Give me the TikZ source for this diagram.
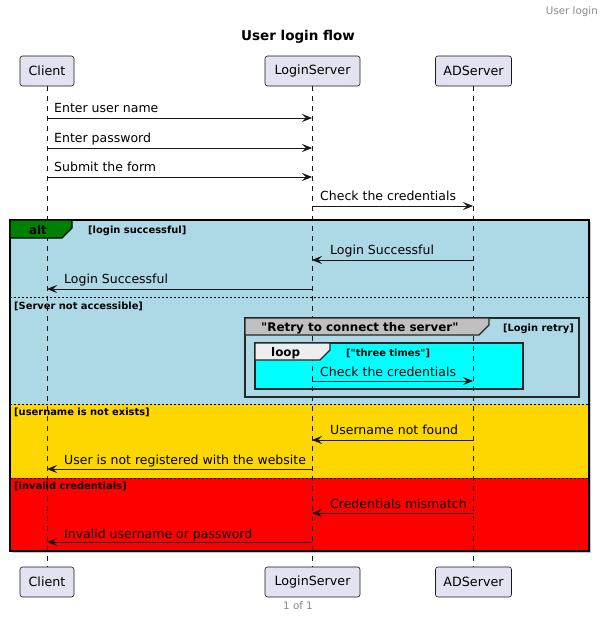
\documentclass[tikz,border=0pt]{standalone}
\usepackage{fontspec}
\setmainfont{DejaVu Sans}
\usetikzlibrary{arrows.meta}
\definecolor{partfill}{RGB}{226,226,240}
\definecolor{partline}{RGB}{24,24,24}
\definecolor{altblue}{RGB}{173,216,230}
\definecolor{altgreen}{RGB}{0,128,0}
\definecolor{altgold}{RGB}{255,215,0}
\definecolor{altred}{RGB}{255,0,0}
\definecolor{loopcyan}{RGB}{0,255,255}
\definecolor{retrygray}{RGB}{192,192,192}
\definecolor{looptab}{RGB}{238,238,238}
\definecolor{metagray}{RGB}{136,136,136}
\tikzset{
  participant/.style={draw=partline, fill=partfill, rounded corners=2.5pt, minimum height=30pt,
    inner sep=0pt, font=\fontsize{12.7}{15}\selectfont, line width=0.6pt},
  lifeline/.style={draw=partline, line width=0.5pt, dash pattern=on 5pt off 5pt},
  msg/.style={draw=partline, line width=0.9pt, -{Stealth[length=10pt,width=8pt,inset=4pt]}},
  msgtext/.style={anchor=base west, inner sep=0pt, font=\fontsize{12.5}{15}\selectfont},
  grouplabel/.style={anchor=base west, inner sep=0pt, font=\fontsize{9.9}{12}\selectfont\bfseries},
  tablabel/.style={inner sep=0pt, anchor=base west, font=\fontsize{11.9}{14}\selectfont\bfseries},
  frameline/.style={draw=black, line width=1.5pt},
  sepline/.style={draw=black, line width=0.6pt, dash pattern=on 2pt off 2pt},
  metatext/.style={inner sep=0pt, text=metagray, font=\fontsize{10.3}{12}\selectfont},
}
\begin{document}
\begin{tikzpicture}[x=1pt,y=-1pt]
\useasboundingbox (0,0) rectangle (604,618);
% header / title / footer
\node[metatext, anchor=base east] (hdr) at (598,15) {User login};
\node[inner sep=0pt, anchor=base, font=\fontsize{13.5}{16}\selectfont\bfseries] (title) at (298,41) {User login flow};
\node[metatext, anchor=base] (ftr) at (298,609) {1 of 1};

% alt fills
\fill[gray!45] (12,222) rectangle (591,553);
\fill[altblue] (10,220) rectangle (589,404);
\fill[altgold] (10,404) rectangle (589,478);
\fill[altred] (10,478) rectangle (589,551);
\fill[loopcyan] (255,343) rectangle (523,389);

% participants
\node[participant, minimum width=54pt] (cT) at (47,71) {Client};
\node[participant, minimum width=95pt] (lT) at (312.5,71) {LoginServer};
\node[participant, minimum width=76pt] (aT) at (473.5,71) {ADServer};
\node[participant, minimum width=54pt] (cB) at (47,582) {Client};
\node[participant, minimum width=95pt] (lB) at (312.5,582) {LoginServer};
\node[participant, minimum width=76pt] (aB) at (473.5,582) {ADServer};

% lifelines
\draw[lifeline] (cT.south) -- (cB.north);
\draw[lifeline] (lT.south) -- (lB.north);
\draw[lifeline] (aT.south) -- (aB.north);

% alt frame
\draw[frameline] (10,220) rectangle (589,551);
\filldraw[fill=altgreen, draw=black, line width=1.2pt] (10,220) -- (72,220) -- (72,228) -- (62,238) -- (10,238) -- cycle;
\node[tablabel, anchor=base] (altl) at (38,234) {alt};
\node[grouplabel] (g1) at (88,233) {[login successful]};
\draw[sepline] (10,297) -- (589,297);
\node[grouplabel] (g2) at (14,309) {[Server not accessible]};
\draw[sepline] (10,404) -- (589,404);
\node[grouplabel] (g3) at (14,415) {[username is not exists]};
\draw[sepline] (10,478) -- (589,478);
\node[grouplabel] (g4) at (14,489) {[invalid credentials]};

% retry group
\draw[draw=black!85, line width=1.2pt] (245,318) rectangle (579,397);
\filldraw[fill=retrygray, draw=black!85, line width=1.2pt] (245,318) -- (489,318) -- (489,325) -- (479,335) -- (245,335) -- cycle;
\node[tablabel] (rl) at (261,331) {\textquotedbl Retry to connect the server\textquotedbl};
\node[grouplabel, anchor=base east] (rg) at (574,331) {[Login retry]};

% loop group
\draw[draw=black!85, line width=1.2pt] (255,343) rectangle (523,389);
\filldraw[fill=looptab, draw=black!85, line width=1.2pt] (255,343) -- (330,343) -- (330,350) -- (320,360) -- (255,360) -- cycle;
\node[tablabel] (ll) at (271,356) {loop};
\node[grouplabel] (lg) at (346,356) {[\textquotedbl three times\textquotedbl]};

% message anchor points
\coordinate (c1) at (47,118); \coordinate (l1) at (312,118);
\coordinate (c2) at (47,148); \coordinate (l2) at (312,148);
\coordinate (c3) at (47,177); \coordinate (l3) at (312,177);
\coordinate (l4) at (312,206); \coordinate (a4) at (473,206);
\coordinate (a5) at (473,260); \coordinate (l5) at (312,260);
\coordinate (l6) at (312,289); \coordinate (c6) at (47,289);
\coordinate (l7) at (312,381); \coordinate (a7) at (473,381);
\coordinate (a8) at (473,440); \coordinate (l8) at (312,440);
\coordinate (l9) at (312,469); \coordinate (c9) at (47,469);
\coordinate (a10) at (473,513); \coordinate (l10) at (312,513);
\coordinate (l11) at (312,542); \coordinate (c11) at (47,542);

\draw[msg] (c1) -- (l1);
\node[msgtext] (m1) at (54,112) {Enter user name};
\draw[msg] (c2) -- (l2);
\node[msgtext] (m2) at (54,142) {Enter password};
\draw[msg] (c3) -- (l3);
\node[msgtext] (m3) at (54,171) {Submit the form};
\draw[msg] (l4) -- (a4);
\node[msgtext] (m4) at (320,200) {Check the credentials};
\draw[msg] (a5) -- (l5);
\node[msgtext] (m5) at (330,254) {Login Successful};
\draw[msg] (l6) -- (c6);
\node[msgtext] (m6) at (64,283) {Login Successful};
\draw[msg] (l7) -- (a7);
\node[msgtext] (m7) at (320,376) {Check the credentials};
\draw[msg] (a8) -- (l8);
\node[msgtext] (m8) at (330,434) {Username not found};
\draw[msg] (l9) -- (c9);
\node[msgtext] (m9) at (64,464) {User is not registered with the website};
\draw[msg] (a10) -- (l10);
\node[msgtext] (m10) at (330,508) {Credentials mismatch};
\draw[msg] (l11) -- (c11);
\node[msgtext] (m11) at (64,538) {Invalid username or password};
\end{tikzpicture}
\end{document}
